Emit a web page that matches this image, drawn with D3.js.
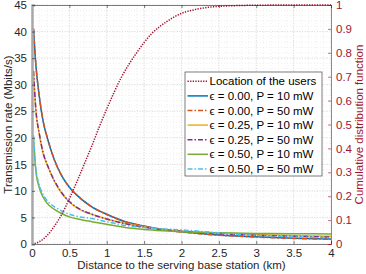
<!DOCTYPE html>
<html lang="en">
<head>
<meta charset="utf-8">
<script src="https://cdn.jsdelivr.net/npm/d3@7"></script>
<style>
body { margin: 0; background: #fff; }
text { font-family: "Liberation Sans", Arial, sans-serif; }
</style>
</head>
<body>
<script>
// distances (km) where the rate curves were read
var dist = [0.02, 0.05, 0.1, 0.15, 0.2, 0.3, 0.4, 0.5, 0.6, 0.8, 1.0, 1.25, 1.5, 1.75, 2.0, 2.5, 3.0, 3.5, 4.0];

// transmission rate (Mbits/s), one array per curve
var e00p10 = [40.5, 34.0, 27.5, 23.0, 20.2, 15.8, 12.8, 10.7, 9.2, 7.0, 5.6, 4.2, 3.4, 2.75, 2.3, 1.7, 1.35, 1.1, 0.92];
var e00p50 = [40.6, 34.1, 27.6, 23.1, 20.3, 15.8, 12.8, 10.7, 9.2, 7.0, 5.55, 4.15, 3.35, 2.7, 2.25, 1.65, 1.3, 1.05, 0.88];
var e25p10 = [32.5, 25.5, 20.5, 17.0, 15.0, 11.8, 9.5, 7.9, 6.8, 5.6, 4.7, 3.85, 3.2, 2.75, 2.45, 2.05, 1.8, 1.6, 1.45];
var e25p50 = [32.6, 25.6, 20.6, 17.1, 15.1, 11.9, 9.6, 8.0, 6.9, 5.6, 4.7, 3.8, 3.15, 2.7, 2.4, 1.95, 1.65, 1.45, 1.3];
var e50p10 = [20.0, 14.0, 10.5, 8.8, 7.7, 6.5, 5.7, 5.1, 4.75, 4.2, 3.7, 3.1, 2.75, 2.5, 2.3, 2.1, 2.0, 1.95, 1.9];
var e50p50 = [20.5, 14.5, 11.0, 9.3, 8.2, 7.0, 6.2, 5.6, 5.2, 4.8, 4.2, 3.5, 3.1, 2.85, 2.65, 2.1, 1.6, 1.35, 1.15];

// CDF of the user locations
var cdfDist = [0, 0.1, 0.2, 0.3, 0.4, 0.5, 0.6, 0.7, 0.8, 0.9, 1.0, 1.2, 1.4, 1.6, 1.8, 2.0, 2.2, 2.4, 2.6, 2.8, 3.0, 3.5, 4.0];
var cdfVal = [0, 0.01, 0.035, 0.075, 0.125, 0.19, 0.26, 0.335, 0.41, 0.49, 0.565, 0.70, 0.80, 0.88, 0.93, 0.965, 0.982, 0.992, 0.996, 0.998, 0.999, 1.0, 1.0];

var xTicks = [0, 0.5, 1, 1.5, 2, 2.5, 3, 3.5, 4];
var yTicks = [0, 5, 10, 15, 20, 25, 30, 35, 40, 45];
var y2Ticks = [0, 0.1, 0.2, 0.3, 0.4, 0.5, 0.6, 0.7, 0.8, 0.9, 1];

var series = [
    { name: "\u03f5 = 0.00, P = 10 mW", vals: e00p10, color: "#0072BD", dash: null },
    { name: "\u03f5 = 0.00, P = 50 mW", vals: e00p50, color: "#D95319", dash: "5,2,1.5,2" },
    { name: "\u03f5 = 0.25, P = 10 mW", vals: e25p10, color: "#EDB120", dash: null },
    { name: "\u03f5 = 0.25, P = 50 mW", vals: e25p50, color: "#7E2F8E", dash: "5,2,1.5,2" },
    { name: "\u03f5 = 0.50, P = 10 mW", vals: e50p10, color: "#77AC30", dash: null },
    { name: "\u03f5 = 0.50, P = 50 mW", vals: e50p50, color: "#4DBEEE", dash: "5,2,1.5,2" }
];
var red = "#A2142F";

var w = 366, h = 274;
var pl = 32, pr = 331, pt = 5, pb = 244;

var svg = d3.select("body").append("svg").attr("width", w).attr("height", h);

var x = d3.scaleLinear().domain([0, 4]).range([pl, pr]);
var y = d3.scaleLinear().domain([0, 45]).range([pb, pt]);
var y2 = d3.scaleLinear().domain([0, 1]).range([pb, pt]);

// minor + major grid
var grid = svg.append("g");
grid.selectAll(".mx").data(d3.range(0, 4.001, 0.1)).enter().append("line")
    .attr("x1", function(d) { return x(d); }).attr("x2", function(d) { return x(d); })
    .attr("y1", pt).attr("y2", pb)
    .attr("stroke", "#e4e4e4").attr("stroke-width", 0.6).attr("stroke-dasharray", "1,2");
grid.selectAll(".my").data(d3.range(0, 45.001, 1)).enter().append("line")
    .attr("x1", pl).attr("x2", pr)
    .attr("y1", function(d) { return y(d); }).attr("y2", function(d) { return y(d); })
    .attr("stroke", "#e4e4e4").attr("stroke-width", 0.6).attr("stroke-dasharray", "1,2");
grid.selectAll(".gx").data(xTicks).enter().append("line")
    .attr("x1", function(d) { return x(d); }).attr("x2", function(d) { return x(d); })
    .attr("y1", pt).attr("y2", pb)
    .attr("stroke", "#d0d0d0").attr("stroke-width", 0.7).attr("stroke-dasharray", "1,1.5");
grid.selectAll(".gy").data(yTicks).enter().append("line")
    .attr("x1", pl).attr("x2", pr)
    .attr("y1", function(d) { return y(d); }).attr("y2", function(d) { return y(d); })
    .attr("stroke", "#d0d0d0").attr("stroke-width", 0.7).attr("stroke-dasharray", "1,1.5");

// rate curves
var line = d3.line()
    .x(function(d, i) { return x(dist[i]); })
    .y(function(d) { return y(d); })
    .curve(d3.curveMonotoneX);

series.forEach(function(s) {
    svg.append("path")
        .attr("d", line(s.vals))
        .attr("fill", "none")
        .attr("stroke", s.color)
        .attr("stroke-width", 1.5)
        .attr("stroke-dasharray", s.dash);
});

// CDF curve on right axis
var cdfLine = d3.line()
    .x(function(d, i) { return x(cdfDist[i]); })
    .y(function(d) { return y2(d); })
    .curve(d3.curveMonotoneX);
svg.append("path")
    .attr("d", cdfLine(cdfVal))
    .attr("fill", "none")
    .attr("stroke", red)
    .attr("stroke-width", 1.5)
    .attr("stroke-dasharray", "1.3,1.3");

// axes
var xAxis = svg.append("g").attr("transform", "translate(0," + pb + ")")
    .call(d3.axisBottom(x).tickValues(xTicks).tickSize(-3).tickPadding(5).tickFormat(d3.format("")));
var xTop = svg.append("g").attr("transform", "translate(0," + pt + ")")
    .call(d3.axisTop(x).tickValues(xTicks).tickSize(-3).tickFormat(""));
var yAxis = svg.append("g").attr("transform", "translate(" + pl + ",0)")
    .call(d3.axisLeft(y).tickValues(yTicks).tickSize(-3).tickPadding(5));
var y2Axis = svg.append("g").attr("transform", "translate(" + pr + ",0)")
    .call(d3.axisRight(y2).tickValues(y2Ticks).tickSize(-3).tickPadding(5).tickFormat(d3.format("")));

[xAxis, xTop, yAxis].forEach(function(a) {
    a.select(".domain").attr("stroke", "#262626").attr("stroke-width", 0.6);
    a.selectAll(".tick line").attr("stroke", "#262626").attr("stroke-width", 0.6);
    a.selectAll("text").attr("fill", "#262626").attr("font-size", 11.5)
        .attr("font-family", "Liberation Sans, Arial, sans-serif");
});
yAxis.select(".domain").attr("stroke", "#a8a8a8").attr("stroke-width", 2.5);
y2Axis.select(".domain").attr("stroke", red).attr("stroke-width", 0.6);
y2Axis.selectAll(".tick line").attr("stroke", red).attr("stroke-width", 0.6);
y2Axis.selectAll("text").attr("fill", red).attr("font-size", 11.5)
    .attr("font-family", "Liberation Sans, Arial, sans-serif");

// axis labels
svg.append("text").attr("x", (pl + pr) / 2).attr("y", 269)
    .attr("text-anchor", "middle").attr("font-size", 11.5).attr("fill", "#262626")
    .text("Distance to the serving base station (km)");
svg.append("text").attr("transform", "translate(12," + ((pt + pb) / 2) + ") rotate(-90)")
    .attr("text-anchor", "middle").attr("font-size", 11.5).attr("fill", "#262626")
    .text("Transmission rate (Mbits/s)");
svg.append("text").attr("transform", "translate(363," + ((pt + pb) / 2) + ") rotate(-90)")
    .attr("text-anchor", "middle").attr("font-size", 11.5).attr("fill", red)
    .text("Cumulative distribution function");

// legend
var lx = 185, ly = 72, lw = 137, lh = 104, rowH = 14.6;
var legend = svg.append("g");
legend.append("rect").attr("x", lx).attr("y", ly).attr("width", lw).attr("height", lh)
    .attr("fill", "#fff").attr("stroke", "#262626").attr("stroke-width", 0.6);

var items = [{ name: "Location of the users", color: red, dash: "1.3,1.3" }].concat(series);
items.forEach(function(s, i) {
    var cy = ly + 9.3 + i * rowH;
    legend.append("line").attr("x1", lx + 2.5).attr("x2", lx + 23)
        .attr("y1", cy).attr("y2", cy)
        .attr("stroke", s.color).attr("stroke-width", 1.5)
        .attr("stroke-dasharray", s.dash);
    legend.append("text").attr("x", lx + 24.5).attr("y", cy + 4)
        .attr("font-size", 11.5).attr("fill", "#000").text(s.name);
});
</script>
</body>
</html>
